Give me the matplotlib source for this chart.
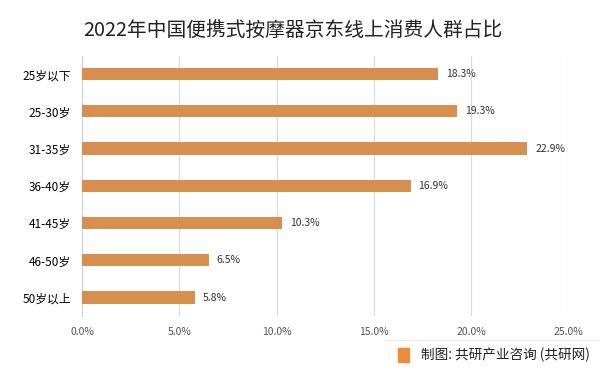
import matplotlib.pyplot as plt
import numpy as np

plt.rcParams['font.family'] = ['Noto Sans CJK SC', 'DejaVu Sans']

# data
groups = ["25岁以下", "25-30岁", "31-35岁", "36-40岁", "41-45岁", "46-50岁", "50岁以上"]
shares = [18.3, 19.3, 22.9, 16.9, 10.3, 6.5, 5.8]
xticks = [0, 5, 10, 15, 20, 25]

fig = plt.figure(figsize=(6, 3.75), dpi=100)
ax = fig.add_axes([0.137, 0.157, 0.81, 0.695])

y = np.arange(len(groups))
ax.barh(y, shares, height=0.33, color='#D68F4E', zorder=3)
for yi, v in zip(y, shares):
    ax.text(v + 0.4, yi, f"{v:.1f}%", va='center', ha='left', fontsize=7.5, color='#333333')

ax.set_ylim(len(groups) - 0.5, -0.5)
ax.set_yticks(y)
ax.set_yticklabels(groups, fontsize=8.5)
ax.set_xlim(0, 25)
ax.set_xticks(xticks)
ax.set_xticklabels([f"{t:.1f}%" for t in xticks], fontsize=7.5, color='#555555')
ax.grid(axis='x', color='#d9d9d9', linewidth=0.8, zorder=0)
for s in ['top', 'right', 'bottom']:
    ax.spines[s].set_visible(False)
ax.spines['left'].set_color('#d0d0d0')
ax.tick_params(length=0)
ax.tick_params(axis='y', pad=8)
ax.tick_params(axis='x', pad=8)

fig.text(0.488, 0.918, "2022年中国便携式按摩器京东线上消费人群占比", ha='center', va='center',
         fontsize=14.2, color='#222222')

# footer
fig.add_artist(plt.Line2D([0.64, 1.0], [0.093, 0.093], color='#eeeeee', linewidth=0.8))
fig.patches.append(plt.Rectangle((0.664, 0.035), 0.018, 0.037, transform=fig.transFigure,
                                 color='#F08A3C', zorder=5))
fig.text(0.702, 0.053, "制图: 共研产业咨询 (共研网)", ha='left', va='center', fontsize=9.8, color='#222222')

fig.savefig("out.png", dpi=100)
